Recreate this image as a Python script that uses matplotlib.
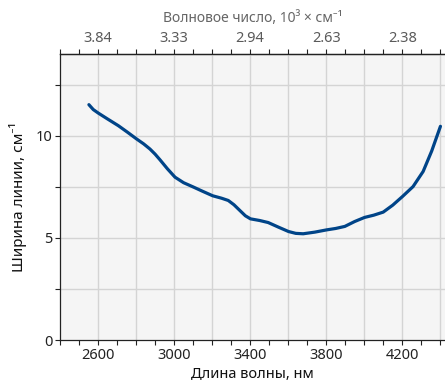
import matplotlib.pyplot as plt
from matplotlib.ticker import MultipleLocator, FixedLocator, NullFormatter

plt.rcParams["font.family"] = ["Noto Sans", "DejaVu Sans"]

# wavelength [nm] and line width [cm^-1]
wavelength = [2552, 2575, 2601, 2650, 2707, 2755, 2803, 2840, 2873, 2900, 2926,
              2965, 3005, 3050, 3101, 3150, 3203, 3250, 3285, 3315, 3346, 3375,
              3402, 3450, 3495, 3550, 3602, 3640, 3679, 3740, 3802, 3850, 3898,
              3950, 4002, 4050, 4100, 4150, 4202, 4257, 4310, 4355, 4401]
line_width = [11.52, 11.28, 11.11, 10.82, 10.49, 10.17, 9.84, 9.60, 9.35, 9.10, 8.82,
              8.38, 7.97, 7.70, 7.49, 7.28, 7.06, 6.94, 6.83, 6.62, 6.34, 6.08,
              5.93, 5.85, 5.75, 5.52, 5.31, 5.22, 5.20, 5.28, 5.39, 5.46, 5.56,
              5.80, 6.00, 6.11, 6.26, 6.60, 7.03, 7.51, 8.25, 9.25, 10.46]

tick_nm = [2600, 3000, 3400, 3800, 4200]
tick_wavenumber = ["3.84", "3.33", "2.94", "2.63", "2.38"]

fig = plt.figure(figsize=(4.45, 3.89), dpi=100)
ax = fig.add_axes([60 / 445, 1 - 340 / 389, 1 - 60 / 445, (340 - 54) / 389])
ax.set_facecolor("#f5f5f5")

ax.plot(wavelength, line_width, color="#004488", lw=2.3,
        solid_capstyle="round", solid_joinstyle="round", zorder=3)

ax.set_xlim(2400, 4425)
ax.set_ylim(0, 14)

ax.xaxis.set_major_locator(FixedLocator(tick_nm))
ax.xaxis.set_minor_locator(MultipleLocator(100))
ax.yaxis.set_major_locator(MultipleLocator(5))
ax.yaxis.set_minor_locator(MultipleLocator(2.5))

# grid every 200 nm and every 2.5 units
for x in range(2600, 4401, 200):
    ax.axvline(x, color="#d4d4d4", lw=1, zorder=1)
for y in [2.5, 5, 7.5, 10, 12.5]:
    ax.axhline(y, color="#d4d4d4", lw=1, zorder=1)

ax.tick_params(which="both", direction="out", length=3.5, width=0.8,
               color="#222222", labelsize=10.5, labelcolor="#222222", pad=2)
ax.spines["right"].set_visible(False)
for s in ["left", "bottom", "top"]:
    ax.spines[s].set_linewidth(0.9)
    ax.spines[s].set_color("#222222")

ax.set_xlabel("Длина волны, нм", fontsize=10.5, color="#111111", labelpad=3)
ax.set_ylabel("Ширина линии, см⁻¹", fontsize=11, color="#111111", labelpad=6)

top = ax.secondary_xaxis("top")
top.xaxis.set_major_locator(FixedLocator(tick_nm))
top.xaxis.set_minor_locator(MultipleLocator(100))
top.set_xticklabels(tick_wavenumber)
top.xaxis.set_minor_formatter(NullFormatter())
top.tick_params(which="both", direction="out", length=3.5, width=0.8,
                color="#222222", labelsize=10.5, labelcolor="#5a5a5a", pad=2)
top.spines["top"].set_linewidth(0.9)
top.spines["top"].set_color("#222222")
top.set_xlabel("Волновое число, 10³ × см⁻¹", fontsize=10, color="#666666", labelpad=7)

fig.savefig("out.png", dpi=100)
